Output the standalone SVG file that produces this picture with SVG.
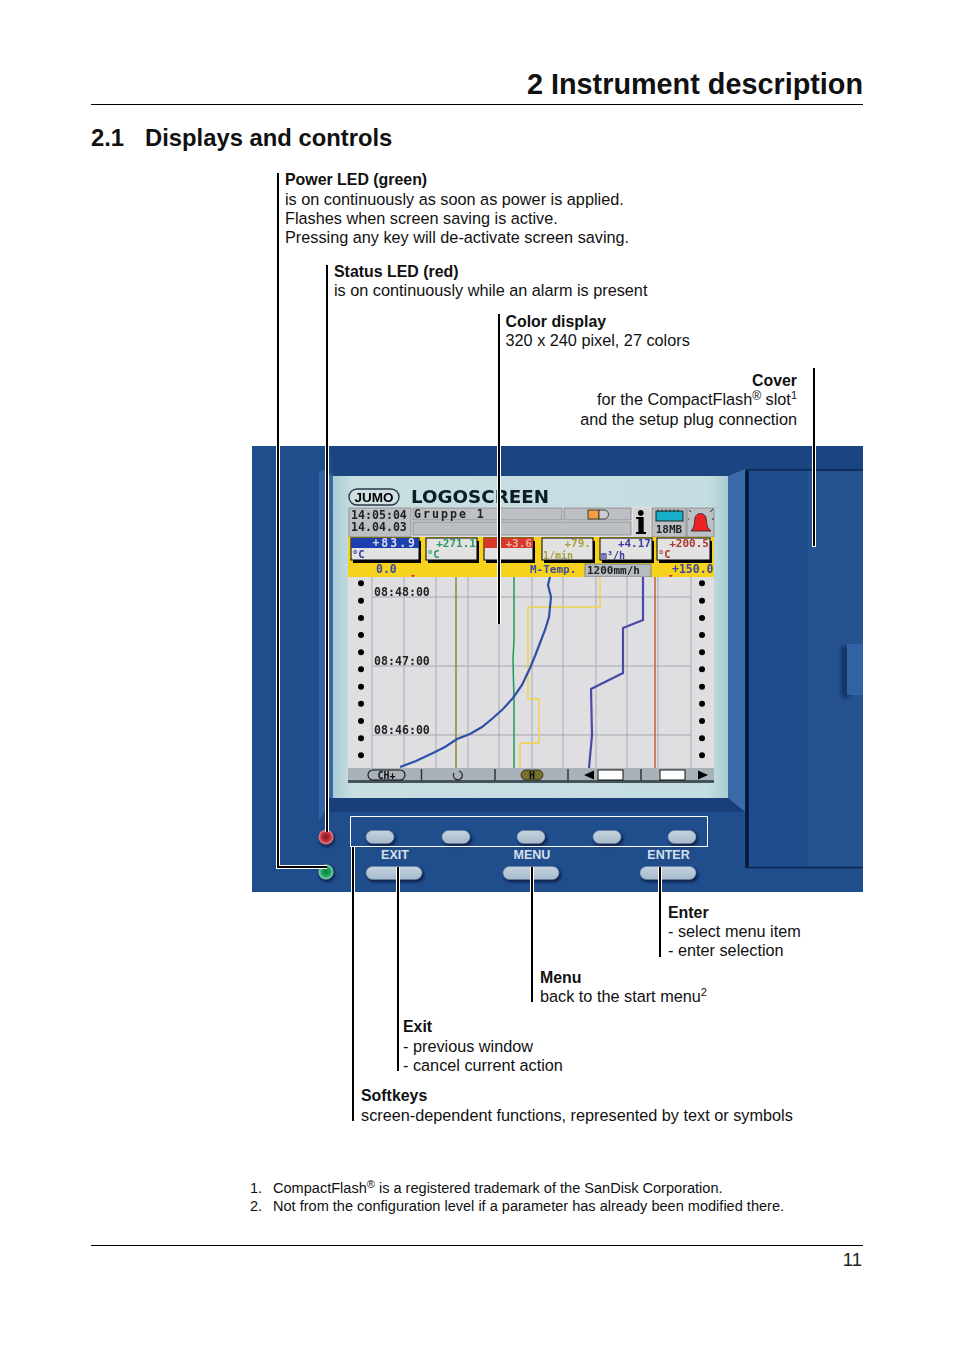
<svg xmlns="http://www.w3.org/2000/svg" width="954" height="1350" viewBox="0 0 954 1350">
<style>
text{font-family:"Liberation Sans",Arial,sans-serif;fill:#111}
.t{font-size:16.25px}
.b{font-weight:bold;font-size:15.9px}
.h1{font-weight:bold;font-size:28.800px}
.h2{font-weight:bold;font-size:23.800px}
.f{font-size:14.550px}
.m{font-family:"DejaVu Sans Mono","Liberation Mono",monospace;font-weight:bold}
.lbl{font-size:12.500px;font-weight:bold;fill:#d6e0ea;text-anchor:middle}
.halo{fill:none;stroke:#fff;stroke-width:4}
.line{fill:none;stroke:#000;stroke-width:2}
.grid{stroke:#b0b6bc;stroke-width:1.2;fill:none}
.gridh{stroke:#a2a8ae;stroke-width:1.2;fill:none}
.tr{fill:none;stroke-width:1.5}
.tr2{fill:none;stroke-width:2.200}
.key{fill:url(#keyG);stroke:#6f8aa6;stroke-width:.6}
.kshadow{fill:#071d44;filter:url(#shade)}
.gb{fill:#bcc0c4;stroke:#7f8488;stroke-width:.8}
.ch{fill:#e2e2e2;stroke:#000;stroke-width:1}
.dot{fill:#000}
</style>
<defs>
<linearGradient id="keyG" x1="0" y1="0" x2="0" y2="1"><stop offset="0" stop-color="#c4d2de"/><stop offset="1" stop-color="#a6bacb"/></linearGradient>
<linearGradient id="scrG" x1="0" y1="0" x2="1" y2="0"><stop offset="0" stop-color="#a9ccd4"/><stop offset=".05" stop-color="#c8dfe2"/><stop offset=".95" stop-color="#c4dde0"/><stop offset="1" stop-color="#a8ccd2"/></linearGradient>
<radialGradient id="red"><stop offset="0" stop-color="#7c1a28"/><stop offset=".6" stop-color="#c4303c"/><stop offset="1" stop-color="#e88a8a"/></radialGradient>
<radialGradient id="green"><stop offset="0" stop-color="#0d7a3c"/><stop offset=".6" stop-color="#22a862"/><stop offset="1" stop-color="#8fd8b0"/></radialGradient>
<filter id="soft" x="-5%" y="-5%" width="110%" height="110%"><feGaussianBlur stdDeviation=".4"/></filter>
<filter id="shade" x="-30%" y="-50%" width="160%" height="200%"><feGaussianBlur stdDeviation="1.5"/></filter>
</defs>

<g id="page-head">
<text x="863" y="94" text-anchor="end" class="h1">2 Instrument description</text>
<path d="M91 104.500H863" stroke="#000" stroke-width="1"/>
<text x="91" y="145.500" class="h2">2.1</text>
<text x="145" y="145.500" class="h2">Displays and controls</text>
</g>

<g id="instrument">
<rect x="252" y="446" width="611" height="446" fill="#204d8c"/>
<path d="M319 472l7-3V810l-7 10z" fill="#3263a2"/>
<path d="M330 446H863V470H745L728 476H333Z" fill="#1b4581"/>
<path d="M327 472l6 4V798h-6z" fill="#3a69a8"/>
<rect x="333" y="476" width="395" height="322" fill="url(#scrG)"/>
<path d="M728 476L745 469V812L728 798Z" fill="#3a6aa8"/>
<path d="M327 798H728L745 812H327Z" fill="#183f7a"/>
<rect x="745" y="470" width="118" height="398" fill="#1f4c8d"/>
<rect x="808" y="470" width="55" height="398" fill="#25538f"/>
<path d="M747 470V868" fill="none" stroke="#06183a" stroke-width="3.500"/>
<path d="M745 470H863M745 867.500H863" fill="none" stroke="#0c2650" stroke-width="1.300"/>
<rect x="841" y="646" width="9" height="52" fill="#12356c" filter="url(#shade)"/>
<rect x="847" y="644" width="16" height="51" fill="#3163a4"/>
</g>

<g id="lcd" filter="url(#soft)">
<rect x="349" y="489" width="50" height="16" rx="8" fill="#cfdfe2" stroke="#2a3a44" stroke-width="1.400"/>
<text x="374" y="502" text-anchor="middle" font-size="13.500" style="font-weight:bold;fill:#000">JUMO</text>
<text x="411" y="503" textLength="138" lengthAdjust="spacingAndGlyphs" font-size="18" style="font-family:'DejaVu Sans',sans-serif;font-weight:bold;fill:#071c26">LOGOSCREEN</text>

<rect x="349" y="507" width="365" height="30" fill="#dfe2e2"/>
<rect x="349" y="508" width="62" height="29" class="gb"/>
<text x="351" y="519" class="m" font-size="11.600" style="fill:#222">14:05:04</text>
<text x="351" y="531" class="m" font-size="11.600" style="fill:#222">14.04.03</text>
<rect x="413" y="508" width="149" height="12" class="gb"/>
<text x="414" y="518" class="m" font-size="11.600" letter-spacing="2" style="fill:#222">Gruppe 1</text>
<rect x="564" y="508" width="67" height="12" class="gb"/>
<rect x="588" y="510" width="11" height="9" fill="#f0a040" stroke="#222" stroke-width=".8"/>
<path d="M599 510h5a4.500 4.500 0 0 1 0 9h-5z" fill="#ccc" stroke="#222" stroke-width=".8"/>
<rect x="413" y="522" width="218" height="13" class="gb"/>
<rect x="633" y="508" width="17" height="29" fill="#d4d4d4"/>
<text x="641" y="534" text-anchor="middle" font-size="31" style="font-family:'DejaVu Serif',serif;font-weight:bold;fill:#000">i</text>
<rect x="652" y="508" width="34" height="29" class="gb"/>
<rect x="656" y="511" width="27" height="10" fill="#12b0c8" stroke="#222" stroke-width="1"/>
<path d="M658 509.500v2M662 509.500v2M666 509.500v2M670 509.500v2M674 509.500v2M678 509.500v2" stroke="#222" stroke-width="1"/>
<text x="669" y="533" text-anchor="middle" class="m" font-size="11" style="fill:#222">18MB</text>
<rect x="687" y="508" width="27" height="29" class="gb"/>
<path d="M691 531c4-4 3-8 4-13 1-6 10-6 11 0 1 5 0 9 5 13z" fill="#ee2228" stroke="#222" stroke-width=".8"/>
<path d="M691 512l-2-2M710 512l3-3M712 519h2M689 519h-1" stroke="#222" stroke-width="1"/>

<rect x="348" y="537" width="366" height="40" fill="#f7d21c"/>
<rect x="353" y="541" width="68" height="22" fill="#000"/><rect x="351" y="538" width="68" height="22" class="ch"/><rect x="351" y="538" width="68" height="10" fill="#1f3fb0"/>
<text x="417" y="547" text-anchor="end" class="m" font-size="11.500" letter-spacing="2" style="fill:#dde">+83.9</text>
<text x="352" y="558" class="m" font-size="10.500" style="fill:#2a3aa8">°C</text>
<rect x="428" y="541" width="51" height="22" fill="#000"/><rect x="426" y="538" width="51" height="22" class="ch"/>
<text x="476" y="547" text-anchor="end" class="m" font-size="11" style="fill:#2a9a60">+271.1</text>
<text x="427" y="558" class="m" font-size="10.500" style="fill:#2a9a60">°C</text>
<rect x="486" y="541" width="49" height="22" fill="#000"/><rect x="484" y="538" width="49" height="22" class="ch"/><rect x="484" y="538" width="49" height="10" fill="#d8382c"/>
<text x="532" y="547" text-anchor="end" class="m" font-size="11" style="fill:#eeb0a0">+3.6</text>
<rect x="544" y="541" width="51" height="22" fill="#000"/><rect x="542" y="538" width="51" height="22" class="ch"/>
<text x="591" y="547" text-anchor="end" class="m" font-size="11" style="fill:#a8a040">+79.</text>
<text x="543" y="559" class="m" font-size="10" style="fill:#a8a040">1/min</text>
<rect x="602" y="541" width="52" height="22" fill="#000"/><rect x="600" y="538" width="52" height="22" class="ch"/>
<text x="651" y="547" text-anchor="end" class="m" font-size="11" style="fill:#3a3aa0">+4.17</text>
<text x="601" y="559" class="m" font-size="10" style="fill:#3a3aa0">m³/h</text>
<rect x="659" y="541" width="53" height="22" fill="#000"/><rect x="657" y="538" width="53" height="22" class="ch"/>
<text x="709" y="547" text-anchor="end" class="m" font-size="11" style="fill:#a83a30">+200.5</text>
<text x="658" y="558" class="m" font-size="10.500" style="fill:#a83a30">°C</text>
<text x="376" y="573" class="m" font-size="11.500" style="fill:#3a4aa0">0.0</text>
<text x="530" y="573" class="m" font-size="11" style="fill:#3a4aa0">M-Temp.</text>
<rect x="585" y="564" width="66" height="13" fill="#b4bcc2" stroke="#6e767c" stroke-width=".8"/>
<text x="587" y="574" class="m" font-size="11" style="fill:#222">1200mm/h</text>
<text x="672" y="573" class="m" font-size="11.500" style="fill:#3a4aa0">+150.0</text>
<path d="M411 575h4l-2 3zM669 575h4l-3 3z" fill="#d8302c"/>

<rect x="348" y="577" width="366" height="191" fill="#dfdfe1"/>
<path class="grid" d="M372 577V768M404 577V768M436 577V768M468 577V768M499 577V768M532 577V768M563 577V768M596 577V768M627 577V768M658 577V768M691 577V768"/>
<path class="gridh" d="M372 597H691M372 666H691M372 735H691"/>
<g class="dot">
<circle cx="361" cy="583.300" r="3"/><circle cx="361" cy="600.700" r="3"/><circle cx="361" cy="618" r="3"/><circle cx="361" cy="635" r="3"/><circle cx="361" cy="652.300" r="3"/><circle cx="361" cy="669.300" r="3"/><circle cx="361" cy="686.700" r="3"/><circle cx="361" cy="703.700" r="3"/><circle cx="361" cy="721" r="3"/><circle cx="361" cy="738.300" r="3"/><circle cx="361" cy="755.300" r="3"/>
<circle cx="702" cy="583.300" r="3"/><circle cx="702" cy="600.700" r="3"/><circle cx="702" cy="618" r="3"/><circle cx="702" cy="635" r="3"/><circle cx="702" cy="652.300" r="3"/><circle cx="702" cy="669.300" r="3"/><circle cx="702" cy="686.700" r="3"/><circle cx="702" cy="703.700" r="3"/><circle cx="702" cy="721" r="3"/><circle cx="702" cy="738.300" r="3"/><circle cx="702" cy="755.300" r="3"/>
</g>
<text x="374" y="595.500" class="m" font-size="11.600" style="fill:#222">08:48:00</text>
<text x="374" y="664.500" class="m" font-size="11.600" style="fill:#222">08:47:00</text>
<text x="374" y="733.500" class="m" font-size="11.600" style="fill:#222">08:46:00</text>
<path class="tr" stroke="#8a8a30" d="M456 577V768"/>
<path class="tr" stroke="#1f9a58" d="M514 577V640L513 660 514 700V768"/>
<path class="tr" stroke="#f0d44a" d="M600 577V607H528V699H539V743H520V768"/>
<path class="tr" stroke="#c0603c" d="M655 577V768"/>
<path class="tr2" stroke="#4a48a8" d="M643 577V620L623 628V673L591 689 592 735 589 768"/>
<path class="tr2" stroke="#2f50a8" d="M550 577 548 585 551 597 549 617 545 630 540 643 535 656 530 668 522 685 513 698 503 709 493 718 482 727 470 734 457 739 445 747 433 753 416 761 400 767"/>

<rect x="348" y="768" width="366" height="15" fill="#a9b2b8"/>
<rect x="348" y="780" width="366" height="3" fill="#46525a"/>
<path d="M421.500 769V781M495 769V781M568 769V781M641 769V781" stroke="#2e383e" stroke-width="1.500"/>
<rect x="368" y="770" width="37" height="10" rx="5" fill="none" stroke="#111" stroke-width="1.100"/>
<text x="386.500" y="779" text-anchor="middle" class="m" font-size="10" style="fill:#111">CH+</text>
<path d="M454 773a4.500 4.500 0 1 0 5-2" fill="none" stroke="#222" stroke-width="1.200"/>
<rect x="521" y="770" width="22" height="10" rx="5" fill="#77702a" stroke="#222" stroke-width=".8"/>
<text x="532" y="779" text-anchor="middle" class="m" font-size="10" style="fill:#111">H</text>
<path d="M584 775l10-4.500v9z" fill="#000"/>
<rect x="598" y="770" width="25" height="10" fill="#fff" stroke="#111"/>
<rect x="660" y="770" width="25" height="10" fill="#fff" stroke="#111"/>
<path d="M698 770.500l10 4.500-10 4.500z" fill="#000"/>
</g>

<g id="keys">
<circle cx="327" cy="839" r="8" fill="#0a2450" filter="url(#shade)"/>
<circle cx="327" cy="874" r="8" fill="#0a2450" filter="url(#shade)"/>
<circle id="led-red" cx="326" cy="837" r="7.500" fill="url(#red)"/>
<circle id="led-green" cx="326" cy="872" r="7.500" fill="url(#green)"/>
<rect x="367" y="832" width="29" height="14" rx="7" class="kshadow"/>
<rect x="443" y="832" width="29" height="14" rx="7" class="kshadow"/>
<rect x="518" y="832" width="29" height="14" rx="7" class="kshadow"/>
<rect x="594" y="832" width="29" height="14" rx="7" class="kshadow"/>
<rect x="669" y="832" width="29" height="14" rx="7" class="kshadow"/>
<rect x="367" y="868" width="57" height="14" rx="7" class="kshadow"/>
<rect x="504" y="868" width="57" height="14" rx="7" class="kshadow"/>
<rect x="641" y="868" width="57" height="14" rx="7" class="kshadow"/>
<rect x="366" y="830.500" width="28" height="13" rx="6.500" class="key"/>
<rect x="442" y="830.500" width="28" height="13" rx="6.500" class="key"/>
<rect x="517" y="830.500" width="28" height="13" rx="6.500" class="key"/>
<rect x="593" y="830.500" width="28" height="13" rx="6.500" class="key"/>
<rect x="668" y="830.500" width="28" height="13" rx="6.500" class="key"/>
<rect x="366" y="866.500" width="56" height="13" rx="6.500" class="key"/>
<rect x="503" y="866.500" width="56" height="13" rx="6.500" class="key"/>
<rect x="640" y="866.500" width="56" height="13" rx="6.500" class="key"/>
<text x="395" y="859" class="lbl">EXIT</text>
<text x="532" y="859" class="lbl">MENU</text>
<text x="668.500" y="859" class="lbl">ENTER</text>
</g>

<g id="connectors">
<rect x="350.500" y="816.500" width="357" height="30" fill="none" stroke="#fff" stroke-width="1"/>
<path class="halo" d="M278 446V867H327M327 446V832M499 446V624M814 446V547M353 846V892M398 867V892M532 867V892M660 867V892"/>
<path class="line" d="M278 173V867H327M327 265V832M499 314V624M814 368V546M353 847V1121M398 867V1071M532 867V1002M660 867V957"/>
</g>

<g id="power-led">
<text x="285" y="185" class="b">Power LED (green)</text>
<text x="285" y="205" class="t">is on continuously as soon as power is applied.</text>
<text x="285" y="224" class="t">Flashes when screen saving is active.</text>
<text x="285" y="243" class="t">Pressing any key will de-activate screen saving.</text>
</g>
<g id="status-led">
<text x="334" y="277" class="b">Status LED (red)</text>
<text x="334" y="296" class="t">is on continuously while an alarm is present</text>
</g>
<g id="color-display">
<text x="505.500" y="327" class="b">Color display</text>
<text x="505.500" y="346" class="t">320 x 240 pixel, 27 colors</text>
</g>
<g id="cover">
<text x="797" y="386" text-anchor="end" class="b">Cover</text>
<text x="797" y="405" text-anchor="end" class="t">for the CompactFlash<tspan font-size="12" dy="-5">®</tspan><tspan dy="5"> slot</tspan><tspan font-size="11" dy="-6">1</tspan></text>
<text x="797" y="425" text-anchor="end" class="t">and the setup plug connection</text>
</g>
<g id="enter">
<text x="668" y="918" class="b">Enter</text>
<text x="668" y="937" class="t">- select menu item</text>
<text x="668" y="956" class="t">- enter selection</text>
</g>
<g id="menu">
<text x="540" y="983" class="b">Menu</text>
<text x="540" y="1002" class="t">back to the start menu<tspan font-size="11" dy="-6">2</tspan></text>
</g>
<g id="exit">
<text x="403" y="1032" class="b">Exit</text>
<text x="403" y="1052" class="t">- previous window</text>
<text x="403" y="1071" class="t">- cancel current action</text>
</g>
<g id="softkeys">
<text x="361" y="1101" class="b">Softkeys</text>
<text x="361" y="1121" class="t">screen-dependent functions, represented by text or symbols</text>
</g>

<g id="footnotes">
<text x="250" y="1193" class="f">1.</text>
<text x="273" y="1193" class="f">CompactFlash<tspan font-size="11" dy="-5">®</tspan><tspan dy="5"> is a registered trademark of the SanDisk Corporation.</tspan></text>
<text x="250" y="1211" class="f">2.</text>
<text x="273" y="1211" class="f">Not from the configuration level if a parameter has already been modified there.</text>
</g>
<g id="page-foot">
<path d="M91 1245.500H863" stroke="#000" stroke-width="1"/>
<text x="862" y="1266" text-anchor="end" font-size="18.500" style="fill:#222">11</text>
</g>
</svg>
